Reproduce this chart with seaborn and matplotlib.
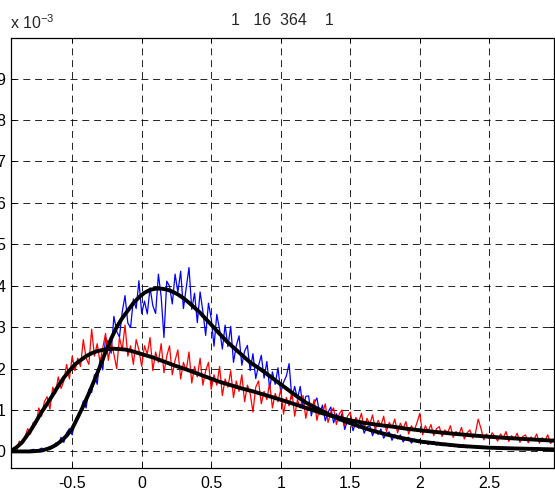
import numpy as np
import pandas as pd
import matplotlib
matplotlib.use("Agg")
import matplotlib.pyplot as plt
import seaborn as sns

# ---------------- data (units of 1e-3) ----------------
x_start, x_end = -0.94, 2.96

blue_hist = [
    0.00, 0.01, 0.00, 0.00, 0.02, 0.01, 0.00, 0.03, 0.05, 0.02, 0.04, 0.08, 0.03, 0.06, 0.12, 0.09,
    0.20, 0.16, 0.34, 0.22, 0.45, 0.55, 0.40, 0.72, 0.80, 0.95, 1.22, 1.05, 1.50, 1.42, 1.85, 1.62,
    2.25, 1.97, 2.75, 2.61, 2.37, 3.26, 2.90, 2.76, 3.37, 3.76, 3.10, 2.99, 3.68, 3.45, 4.12, 3.33,
    3.63, 3.32, 3.95, 3.52, 3.33, 4.28, 3.73, 2.75, 4.11, 3.99, 3.56, 4.28, 3.84, 4.35, 3.45, 3.95,
    4.44, 3.43, 3.82, 3.11, 3.85, 3.38, 2.80, 3.58, 3.21, 2.54, 3.31, 2.94, 2.47, 3.05, 2.53, 3.02,
    2.15, 2.55, 2.79, 2.08, 2.42, 2.56, 1.95, 2.36, 1.76, 2.07, 2.32, 1.77, 2.17, 1.52, 1.92, 1.62,
    2.02, 1.42, 1.67, 1.82, 2.12, 1.27, 1.57, 1.27, 1.57, 1.03, 1.33, 1.34, 0.86, 1.17, 1.29, 0.90,
    1.12, 0.74, 0.95, 1.07, 0.69, 0.91, 0.73, 0.91, 0.53, 0.75, 0.78, 0.50, 0.73, 0.56, 0.70, 0.44,
    0.59, 0.62, 0.38, 0.56, 0.41, 0.54, 0.32, 0.43, 0.47, 0.27, 0.41, 0.30, 0.40, 0.23, 0.33, 0.34,
    0.20, 0.30, 0.22, 0.29, 0.20, 0.25, 0.17, 0.22, 0.24, 0.15, 0.19, 0.14, 0.20, 0.16, 0.12, 0.17,
    0.15, 0.10, 0.14, 0.16, 0.09, 0.12, 0.10, 0.14, 0.08, 0.11, 0.09, 0.12, 0.07, 0.10, 0.11, 0.06,
    0.09, 0.08, 0.10, 0.05, 0.08, 0.07, 0.09, 0.05, 0.07, 0.08, 0.04, 0.07, 0.06, 0.08, 0.04, 0.06,
    0.05, 0.07, 0.04, 0.05,
]

red_hist = [
    0.00, 0.10, 0.04, 0.25, 0.18, 0.35, 0.55, 0.42, 0.70, 0.65, 1.05, 0.85, 1.20, 1.32, 1.02, 1.55,
    1.40, 1.80, 1.52, 1.70, 2.10, 1.75, 2.30, 1.95, 2.25, 2.05, 2.70, 2.25, 2.10, 2.95, 2.30, 2.60,
    2.15, 2.50, 2.85, 2.20, 2.65, 2.35, 2.00, 2.75, 2.45, 3.05, 2.30, 2.55, 2.10, 2.70, 2.45, 2.05,
    2.55, 2.35, 2.75, 1.95, 2.40, 2.15, 2.60, 1.90, 2.30, 2.55, 1.85, 2.20, 2.45, 1.75, 2.15, 1.95,
    2.40, 1.65, 2.05, 1.80, 2.25, 1.60, 1.95, 2.15, 1.50, 1.85, 1.60, 2.05, 1.35, 1.75, 1.55, 1.95,
    1.30, 1.70, 1.45, 1.85, 1.20, 1.60, 1.40, 0.95, 1.55, 1.70, 1.15, 1.45, 1.25, 1.65, 1.05, 1.40,
    1.20, 1.50, 0.90, 1.30, 1.10, 1.45, 0.85, 1.25, 1.05, 1.35, 0.80, 1.15, 0.95, 1.25, 0.75, 1.05,
    0.90, 1.15, 0.70, 0.95, 1.05, 0.65, 0.90, 1.00, 0.62, 0.85, 0.95, 0.60, 0.82, 0.70, 0.92, 0.55,
    0.80, 0.65, 0.88, 0.52, 0.75, 0.62, 0.85, 0.48, 0.70, 0.58, 0.78, 0.45, 0.68, 0.55, 0.72, 0.42,
    0.62, 0.50, 0.70, 0.92, 0.40, 0.62, 0.48, 0.65, 0.38, 0.55, 0.60, 0.36, 0.52, 0.45, 0.62, 0.34,
    0.48, 0.40, 0.58, 0.30, 0.45, 0.52, 0.32, 0.44, 0.78, 0.55, 0.28, 0.42, 0.30, 0.45, 0.36, 0.25,
    0.42, 0.33, 0.48, 0.24, 0.38, 0.30, 0.44, 0.22, 0.36, 0.40, 0.21, 0.35, 0.28, 0.42, 0.20, 0.33,
    0.26, 0.40, 0.19, 0.30,
]

blue_fit_x = [-0.94, -0.80, -0.72, -0.66, -0.62, -0.58, -0.54, -0.50, -0.46, -0.42, -0.38, -0.34,
              -0.30, -0.26, -0.22, -0.18, -0.14, -0.10, -0.06, -0.02, 0.02, 0.06, 0.10, 0.14,
              0.18, 0.22, 0.26, 0.30, 0.34, 0.38, 0.42, 0.46, 0.50, 0.56, 0.62, 0.70, 0.78,
              0.86, 0.94, 1.02, 1.10, 1.18, 1.26, 1.36, 1.46, 1.56, 1.66, 1.76, 1.86, 2.00,
              2.15, 2.30, 2.50, 2.70, 2.96]
blue_fit_y = [0.00, 0.00, 0.02, 0.08, 0.15, 0.25, 0.38, 0.55, 0.82, 1.10, 1.40, 1.72,
              2.05, 2.40, 2.72, 3.00, 3.22, 3.40, 3.58, 3.72, 3.83, 3.90, 3.93, 3.93,
              3.91, 3.86, 3.79, 3.70, 3.59, 3.47, 3.35, 3.20, 3.06, 2.84, 2.63, 2.39, 2.15,
              1.97, 1.77, 1.57, 1.37, 1.18, 1.04, 0.87, 0.73, 0.61, 0.50, 0.41, 0.33, 0.24,
              0.18, 0.13, 0.09, 0.07, 0.05]

red_fit_x = [-0.94, -0.90, -0.86, -0.80, -0.76, -0.72, -0.68, -0.64, -0.60, -0.56, -0.52, -0.48,
             -0.44, -0.40, -0.36, -0.32, -0.28, -0.24, -0.20, -0.16, -0.12, -0.08, -0.04, 0.00,
             0.08, 0.16, 0.24, 0.32, 0.40, 0.48, 0.56, 0.64, 0.72, 0.80, 0.88, 0.96, 1.10,
             1.20, 1.30, 1.40, 1.50, 1.60, 1.70, 1.80, 1.90, 2.00, 2.20, 2.40, 2.60, 2.80, 2.96]
red_fit_y = [0.00, 0.10, 0.22, 0.50, 0.72, 0.95, 1.15, 1.36, 1.58, 1.78, 1.95, 2.10,
             2.20, 2.30, 2.37, 2.42, 2.45, 2.47, 2.48, 2.47, 2.46, 2.43, 2.39, 2.35,
             2.27, 2.17, 2.07, 1.98, 1.88, 1.78, 1.68, 1.60, 1.52, 1.45, 1.37, 1.29, 1.14,
             1.03, 0.92, 0.83, 0.75, 0.69, 0.64, 0.60, 0.55, 0.51, 0.44, 0.38, 0.33, 0.29, 0.26]

title_text = "1   16  364    1"
x_ticks = [-0.5, 0, 0.5, 1, 1.5, 2, 2.5]
x_tick_labels = ["-0.5", "0", "0.5", "1", "1.5", "2", "2.5"]
y_ticks = [0, 1, 2, 3, 4, 5, 6, 7, 8, 9]
y_tick_labels = [str(v) for v in y_ticks]

# ---------------- plotting ----------------
sns.set_style("white")
plt.rcParams["font.family"] = ["Liberation Sans", "DejaVu Sans"]
plt.rcParams["lines.scale_dashes"] = False
plt.rcParams["mathtext.fontset"] = "custom"
plt.rcParams["mathtext.rm"] = "Liberation Sans"

fig = plt.figure(figsize=(5.55, 4.95), dpi=100)
ax = fig.add_axes([11 / 555, 27 / 495, 543 / 555, 430 / 495])

bx = np.linspace(x_start, x_end, len(blue_hist))
rx = np.linspace(x_start, x_end, len(red_hist))
df_b = pd.DataFrame({"x": bx, "y": blue_hist})
df_r = pd.DataFrame({"x": rx, "y": red_hist})
df_bf = pd.DataFrame({"x": blue_fit_x, "y": blue_fit_y})
df_rf = pd.DataFrame({"x": red_fit_x, "y": red_fit_y})

sns.lineplot(data=df_b, x="x", y="y", color=(0, 0, 1), lw=0.9, ax=ax, sort=False, estimator=None)
sns.lineplot(data=df_r, x="x", y="y", color=(1, 0, 0), lw=0.9, ax=ax, sort=False, estimator=None)
sns.lineplot(data=df_bf, x="x", y="y", color="black", lw=2.8, ax=ax, sort=False, estimator=None)
sns.lineplot(data=df_rf, x="x", y="y", color="black", lw=2.8, ax=ax, sort=False, estimator=None)

ax.set_xlim(-0.94, 2.965)
ax.set_ylim(-0.4, 9.98)
ax.set_xticks(x_ticks)
ax.set_xticklabels(x_tick_labels)
ax.set_yticks(y_ticks)
ax.set_yticklabels(y_tick_labels)
ax.set_xlabel("")
ax.set_ylabel("")

ax.grid(True, color="black", lw=0.6, linestyle=(0, (5, 3.5)))
ax.set_axisbelow(True)
for s in ax.spines.values():
    s.set_visible(True)
    s.set_color("black")
    s.set_linewidth(0.9)

ax.tick_params(axis="both", direction="in", length=3.5, width=0.7, colors="black",
               labelsize=11.5, top=True, right=True, bottom=True, left=True)
ax.tick_params(axis="x", pad=6)
ax.tick_params(axis="y", pad=4)

ax.set_title(title_text, fontsize=11.5, pad=9)
fig.text(10 / 555, 1 - 29 / 495, r"x 10$^{\mathregular{-3}}$", fontsize=11.5, ha="left", va="baseline")

fig.savefig("out.png", dpi=100)
